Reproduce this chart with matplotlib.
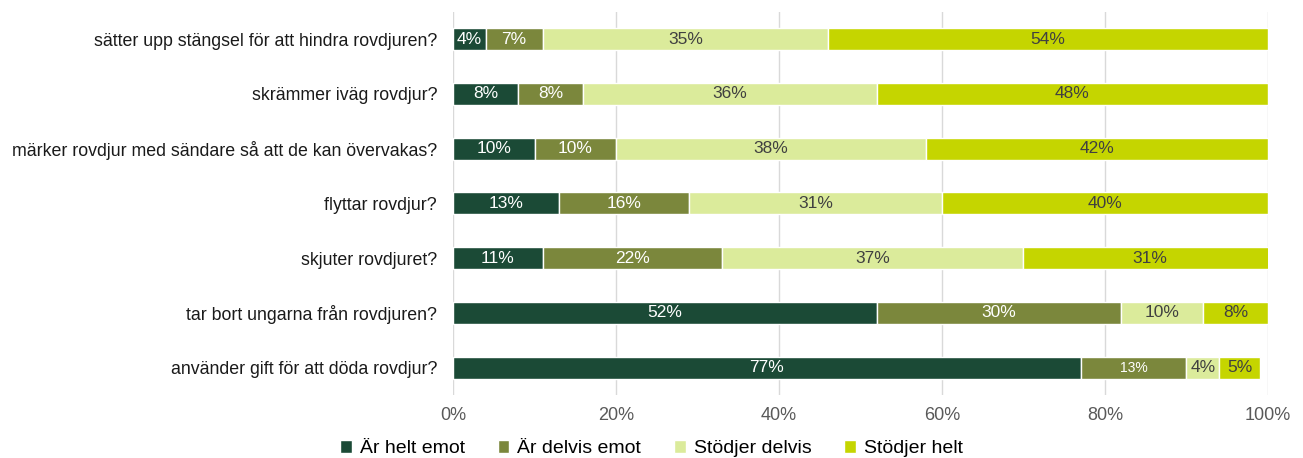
import matplotlib.pyplot as plt
import numpy as np

plt.rcParams['font.family'] = ['Liberation Sans', 'DejaVu Sans']

questions = [
    'sätter upp stängsel för att hindra rovdjuren?',
    'skrämmer iväg rovdjur?',
    'märker rovdjur med sändare så att de kan övervakas?',
    'flyttar rovdjur?',
    'skjuter rovdjuret?',
    'tar bort ungarna från rovdjuren?',
    'använder gift för att döda rovdjur?',
]
helt_emot = [4, 8, 10, 13, 11, 52, 77]
delvis_emot = [7, 8, 10, 16, 22, 30, 13]
stodjer_delvis = [35, 36, 38, 31, 37, 10, 4]
stodjer_helt = [54, 48, 42, 40, 31, 8, 5]

series = [helt_emot, delvis_emot, stodjer_delvis, stodjer_helt]
labels = ['Är helt emot', 'Är delvis emot', 'Stödjer delvis', 'Stödjer helt']
colors = ['#1b4a36', '#7b873c', '#dbeb9b', '#c5d500']
text_colors = ['white', 'white', '#404040', '#404040']

fig = plt.figure(figsize=(13.03, 4.58), dpi=100)
ax = fig.add_axes([0.3477, 0.1376, 0.6254, 0.8364])

y = np.arange(len(questions))
left = np.zeros(len(questions))
for vals, lab, col, tc in zip(series, labels, colors, text_colors):
    v = np.array(vals, dtype=float)
    ax.barh(y, v, left=left, height=0.4, color=col, edgecolor='white',
            linewidth=1, label=lab, zorder=3)
    for yi, (l, w) in enumerate(zip(left, v)):
        fs = 10 if (yi == 6 and lab == 'Är delvis emot') else 12.5
        ax.text(l + w / 2, yi, f'{int(w)}%', ha='center', va='center',
                color=tc, fontsize=fs, zorder=4)
    left += v

ax.set_xlim(0, 100)
ax.set_ylim(len(questions) - 0.5, -0.5)
ax.set_yticks(y)
ax.set_yticklabels(questions, fontsize=12.8, color='#1a1a1a')
ax.set_xticks(np.arange(0, 101, 20))
ax.set_xticklabels([f'{t}%' for t in range(0, 101, 20)], fontsize=13, color='#595959')
ax.tick_params(length=0)
ax.tick_params(axis='y', pad=11.5)
ax.tick_params(axis='x', pad=9)
ax.grid(axis='x', color='#d9d9d9', linewidth=1, zorder=0)
for s in ax.spines.values():
    s.set_visible(False)

handles, labs = ax.get_legend_handles_labels()
fig.legend(handles, labs, loc='center', bbox_to_anchor=(0.5, 0.02), ncol=4,
           frameon=False, fontsize=14, handlelength=0.6, handleheight=0.6,
           handletextpad=0.4, columnspacing=1.7, borderpad=0)

fig.savefig('out.png', dpi=100)
